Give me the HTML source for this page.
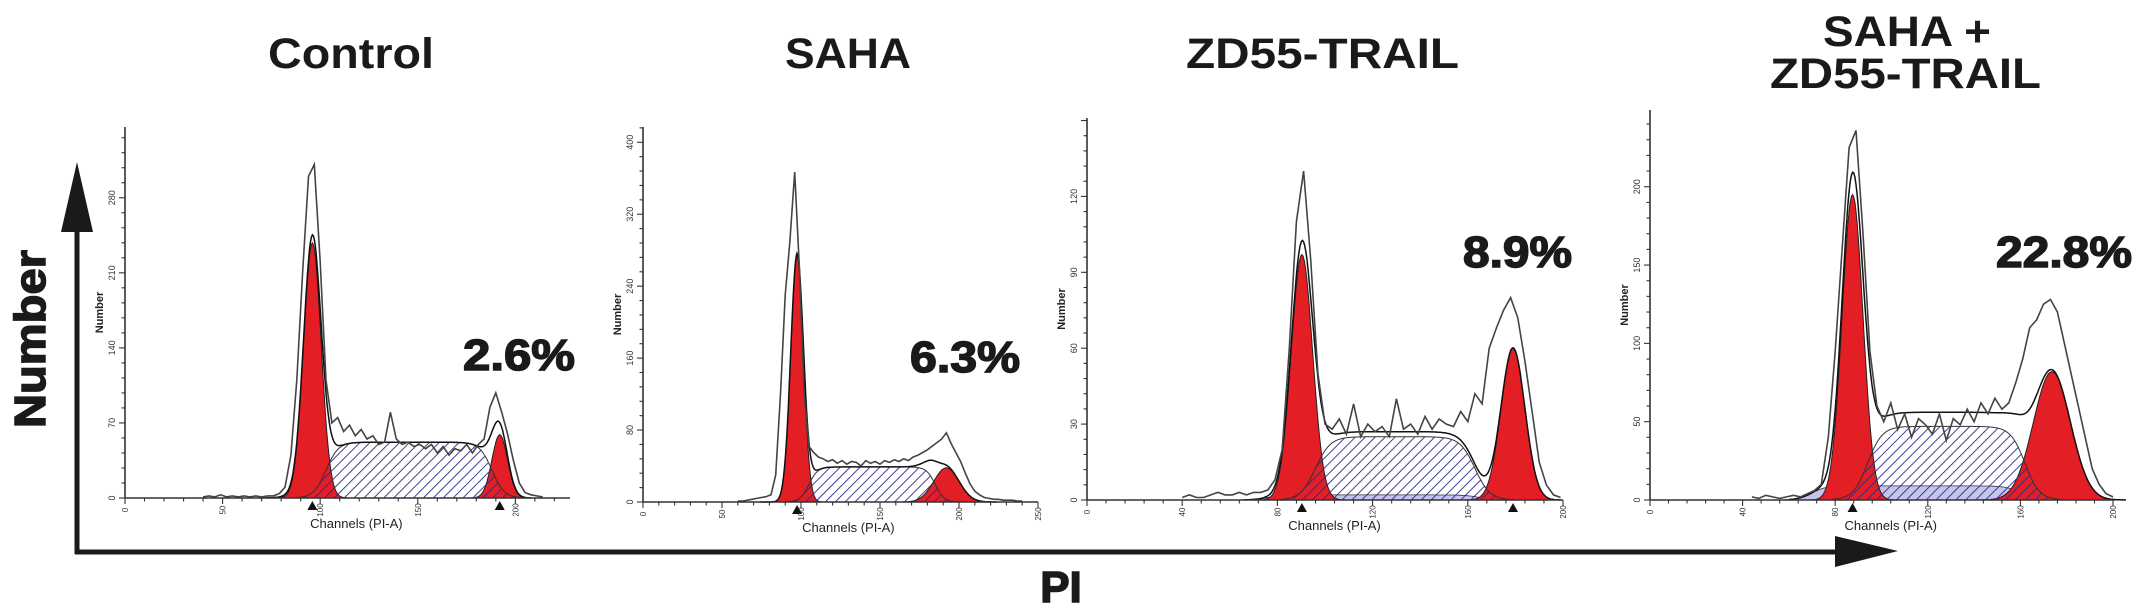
<!DOCTYPE html>
<html><head><meta charset="utf-8"><title>Cell cycle PI histograms</title>
<style>
html,body{margin:0;padding:0;background:#fff;}
svg{display:block;}
text{font-family:"Liberation Sans",Arial,sans-serif;}
</style></head>
<body>
<svg id="fig" width="2150" height="614" viewBox="0 0 2150 614" xmlns="http://www.w3.org/2000/svg">
<defs>
<pattern id="hatch" patternUnits="userSpaceOnUse" width="7" height="7" patternTransform="rotate(45)">
<line x1="0" y1="0" x2="0" y2="7" stroke="#2a2a8a" stroke-width="1.8"/>
</pattern>
</defs>
<g font-weight="bold" font-size="43" fill="#1a1a1a">
<text x="268" y="68" textLength="166" lengthAdjust="spacingAndGlyphs">Control</text>
<text x="785" y="68" textLength="126" lengthAdjust="spacingAndGlyphs">SAHA</text>
<text x="1186" y="68" textLength="273" lengthAdjust="spacingAndGlyphs">ZD55-TRAIL</text>
<text x="1823" y="46" textLength="168" lengthAdjust="spacingAndGlyphs">SAHA +</text>
<text x="1770" y="88" textLength="271" lengthAdjust="spacingAndGlyphs">ZD55-TRAIL</text>
</g>
<g>
<line x1="77" y1="228" x2="77" y2="554" stroke="#1a1a1a" stroke-width="5"/>
<polygon points="77,162 61,232 93,232" fill="#1a1a1a"/>
<line x1="75" y1="552" x2="1840" y2="552" stroke="#1a1a1a" stroke-width="5"/>
<polygon points="1898,551 1835,536 1835,567" fill="#1a1a1a"/>
<text transform="translate(45,339) rotate(-90)" text-anchor="middle" font-weight="bold" font-size="44" fill="#1a1a1a" stroke="#1a1a1a" stroke-width="1.5" textLength="178" lengthAdjust="spacingAndGlyphs">Number</text>
<text x="1061" y="602" text-anchor="middle" font-weight="bold" font-size="44" fill="#1a1a1a" stroke="#1a1a1a" stroke-width="1.5">PI</text>
</g>
<g id="panels"></g>
<g font-weight="bold" font-size="44" fill="#1a1a1a" stroke="#1a1a1a" stroke-width="1.5">
<text x="463" y="370" textLength="112" lengthAdjust="spacingAndGlyphs">2.6%</text>
<text x="910" y="372" textLength="110" lengthAdjust="spacingAndGlyphs">6.3%</text>
<text x="1463" y="267" textLength="109" lengthAdjust="spacingAndGlyphs">8.9%</text>
<text x="1996" y="267" textLength="136" lengthAdjust="spacingAndGlyphs">22.8%</text>
</g>
</svg>
<script>
// ---- data ----
const panelIds = ['control', 'saha', 'zd55-trail', 'saha-zd55-trail'];
const xMaxCh = [228, 250, 200, 200];
const yMaxCount = [346, 417, 151, 249];
const yTicks1 = [0, 70, 140, 210, 280];
const yTicks2 = [0, 80, 160, 240, 320, 400];
const yTicks3 = [0, 30, 60, 90, 120];
const yTicks4 = [0, 50, 100, 150, 200];
const xTicks1 = [0, 50, 100, 150, 200];
const xTicks2 = [0, 50, 100, 150, 200, 250];
const xTicks3 = [0, 40, 80, 120, 160, 200];
const xTicks4 = [0, 40, 80, 120, 160, 200];
const g1Mean = [96, 97.5, 90.3, 87.5];
const g1Sd = [4.5, 4, 4.5, 4.5];
const g1Height = [238, 274, 97, 195];
const g2Mean = [192, 192, 179, 173.6];
const g2Sd = [4, 8, 5, 8];
const g2Height = [59, 38, 60, 82];
const sStart = [103, 105, 96, 94];
const sEnd = [188, 185, 163, 162];
const sHeight = [52, 39, 25, 47];
const apopStart = [82, 84, 76, 70];
const apopEnd = [100, 100, 165, 160];
const apopHeight = [3, 0, 2, 9];
const rawStep = 3;
const rawStart = [40, 60, 40, 44];
const raw1 = [1,2,1,3,1,2,1,2,1,2,1,2,2, 4,10,40,110,210,300,311,220,110,70, 75,62,68,58,64,55,58,50,52,80, 55,50,52,48,50,46,50,42,48,40, 46,44,50,42,50,55,85,98,80,60, 35,14,5,3,2,1];
const raw2 = [1,1,2,3,4,5,6,8, 30,120,230,290,367,260,120,62,55,50, 48,45,47,43,46,42,45,44,40,46, 43,45,42,46,44,47,45,48,46,50, 52,55,58,62,66,70,77,65,55,45, 32,20,12,8,5,4,3,3,2,2, 2,1,1];
const raw3 = [1,2,1,1,2,3,2,2,3,2,3,3,4,8, 20,60,110,130,95,50,30,28,32,26, 38,25,30,27,29,25,40,28,30,26, 33,28,32,30,29,35,31,42,38,60, 68,75,80,72,55,35,15,6,2,1];
const raw4 = [2,1,3,2,1,2,3,2,4,6,10, 40,95,160,225,236,170,95,60,50,62, 45,55,40,52,48,42,55,38,52,48, 58,50,62,55,65,58,62,75,90,110, 115,125,128,120,100,80,60,40,20,10, 4,2];
const yTickSets = [yTicks1, yTicks2, yTicks3, yTicks4];
const xTickSets = [xTicks1, xTicks2, xTicks3, xTicks4];
const rawSets = [raw1, raw2, raw3, raw4];

// ---- layout (pixels, not data) ----
const frames = [
  {left:125, right:570, top:127, base:498},
  {left:643, right:1038, top:127, base:502},
  {left:1087, right:1563, top:118, base:500},
  {left:1650, right:2113, top:110, base:500}
];
const NS = 'http://www.w3.org/2000/svg';
const root = document.getElementById('panels');
function mk(tag, attrs, parent){
  const e = document.createElementNS(NS, tag);
  for (const k in attrs) e.setAttribute(k, attrs[k]);
  parent.appendChild(e);
  return e;
}
function gauss(x, m, s, h){ return h*Math.exp(-0.5*((x-m)/s)*((x-m)/s)); }
function sig(v){ return 1/(1+Math.exp(-v)); }
function plateau(x, a, b, h, w){ return h*sig((x-a)/w)*sig((b-x)/w); }

for (let p = 0; p < 4; p++){
  const f = frames[p];
  const xs = ch => f.left + ch*(f.right-f.left)/xMaxCh[p];
  const ys = c => f.base - c*(f.base-f.top)/yMaxCount[p];
  const g = mk('g', {}, root);
  
  

  function areaPath(fn, a, b){
    let d = 'M' + xs(a).toFixed(1) + ',' + ys(0).toFixed(1);
    for (let x = a; x <= b + 1e-6; x += 0.5) d += ' L' + xs(x).toFixed(1) + ',' + ys(fn(x)).toFixed(1);
    d += ' L' + xs(b).toFixed(1) + ',' + ys(0).toFixed(1) + ' Z';
    return d;
  }
  if (apopHeight[p] > 0){
    const ap = mk('path', {d: areaPath(x => plateau(x, apopStart[p], apopEnd[p], apopHeight[p], 3), apopStart[p]-12, apopEnd[p]+12), fill:'#c4c4ec', stroke:'#333', 'stroke-width':0.8}, g);
    
    
  }
  const r1 = mk('path', {d: areaPath(x => gauss(x, g1Mean[p], g1Sd[p], g1Height[p]), g1Mean[p]-4*g1Sd[p], g1Mean[p]+4*g1Sd[p]), fill:'#e31e24', stroke:'#222', 'stroke-width':1}, g);
  
  
  const r2 = mk('path', {d: areaPath(x => gauss(x, g2Mean[p], g2Sd[p], g2Height[p]), g2Mean[p]-4*g2Sd[p], g2Mean[p]+4*g2Sd[p]), fill:'#e31e24', stroke:'#222', 'stroke-width':1}, g);
  
  
  const sw = Math.max(g1Sd[p], 3)*0.7;
  const sp = mk('path', {d: areaPath(x => plateau(x, sStart[p], sEnd[p], sHeight[p], sw), sStart[p]-16, sEnd[p]+16), fill:'url(#hatch)', stroke:'#333', 'stroke-width':1}, g);
  
  

  let dm = '';
  for (let x = apopStart[p]-10; x <= g2Mean[p]+4*g2Sd[p]; x += 0.5){
    const v = gauss(x, g1Mean[p], g1Sd[p], g1Height[p]) + gauss(x, g2Mean[p], g2Sd[p], g2Height[p]) + plateau(x, sStart[p], sEnd[p], sHeight[p], sw) + plateau(x, apopStart[p], apopEnd[p], apopHeight[p], 3);
    dm += (dm ? ' L' : 'M') + xs(x).toFixed(1) + ',' + ys(v).toFixed(1);
  }
  const ml = mk('path', {d: dm, fill:'none', stroke:'#111', 'stroke-width':1.5}, g);
  
  

  const raw = rawSets[p];
  let dr = '';
  for (let i = 0; i < raw.length; i++){
    dr += (i ? ' L' : 'M') + xs(rawStart[p] + i*rawStep).toFixed(1) + ',' + ys(raw[i]).toFixed(1);
  }
  const rl = mk('path', {d: dr, fill:'none', stroke:'#444', 'stroke-width':1.6}, g);
  
  

  const ya = mk('line', {x1:f.left, y1:f.top, x2:f.left, y2:f.base, stroke:'#333', 'stroke-width':1.6}, g);
  
  
  const xa = mk('line', {x1:f.left, y1:f.base, x2:f.right, y2:f.base, stroke:'#333', 'stroke-width':1.6}, g);
  
  
  const yt = yTickSets[p];
  const ystep = yt[1]-yt[0];
  for (let v = 0; v <= yMaxCount[p]; v += ystep/5){
    const major = Math.abs(v/ystep - Math.round(v/ystep)) < 1e-6;
    const t = mk('line', {x1:f.left-(major?6:3.5), y1:ys(v), x2:f.left, y2:ys(v), stroke:'#333', 'stroke-width':1.1}, g);
    
    
  }
  yt.forEach(v => {
    const t = mk('text', {transform:'translate(' + (f.left-10) + ',' + ys(v) + ') rotate(-90)', 'text-anchor':'middle', 'font-size':9, fill:'#333'}, g);
    t.textContent = v;
    
    
  });
  const xt = xTickSets[p];
  const xstep = (xt[1]-xt[0])/5;
  for (let v = 0; v <= xMaxCh[p]; v += xstep){
    const major = Math.abs(v/(xt[1]-xt[0]) - Math.round(v/(xt[1]-xt[0]))) < 1e-6;
    const t = mk('line', {x1:xs(v), y1:f.base, x2:xs(v), y2:f.base+(major?6:3.5), stroke:'#333', 'stroke-width':1.1}, g);
    
    
  }
  xt.forEach(v => {
    const t = mk('text', {transform:'translate(' + (xs(v)+3) + ',' + (f.base+12) + ') rotate(-90)', 'text-anchor':'middle', 'font-size':8, fill:'#333'}, g);
    t.textContent = v;
    
    
  });
  const markers = (p === 1 || p === 3) ? [g1Mean[p]] : [g1Mean[p], g2Mean[p]];
  markers.forEach(m => {
    const tri = mk('polygon', {points: xs(m) + ',' + (f.base+3) + ' ' + (xs(m)-5) + ',' + (f.base+12) + ' ' + (xs(m)+5) + ',' + (f.base+12), fill:'#111'}, g);
    
    
  });
  const xl = mk('text', {x: f.left + (f.right-f.left)*0.52, y: f.base+30, 'text-anchor':'middle', 'font-size':13, fill:'#222'}, g);
  xl.textContent = 'Channels (PI-A)';
  
  
  const yl = mk('text', {transform:'translate(' + (f.left-22) + ',' + ((f.top+f.base)/2) + ') rotate(-90)', 'text-anchor':'middle', 'font-size':11, 'font-weight':'bold', fill:'#222'}, g);
  yl.textContent = 'Number';
  
  
}
</script>
</body></html>
